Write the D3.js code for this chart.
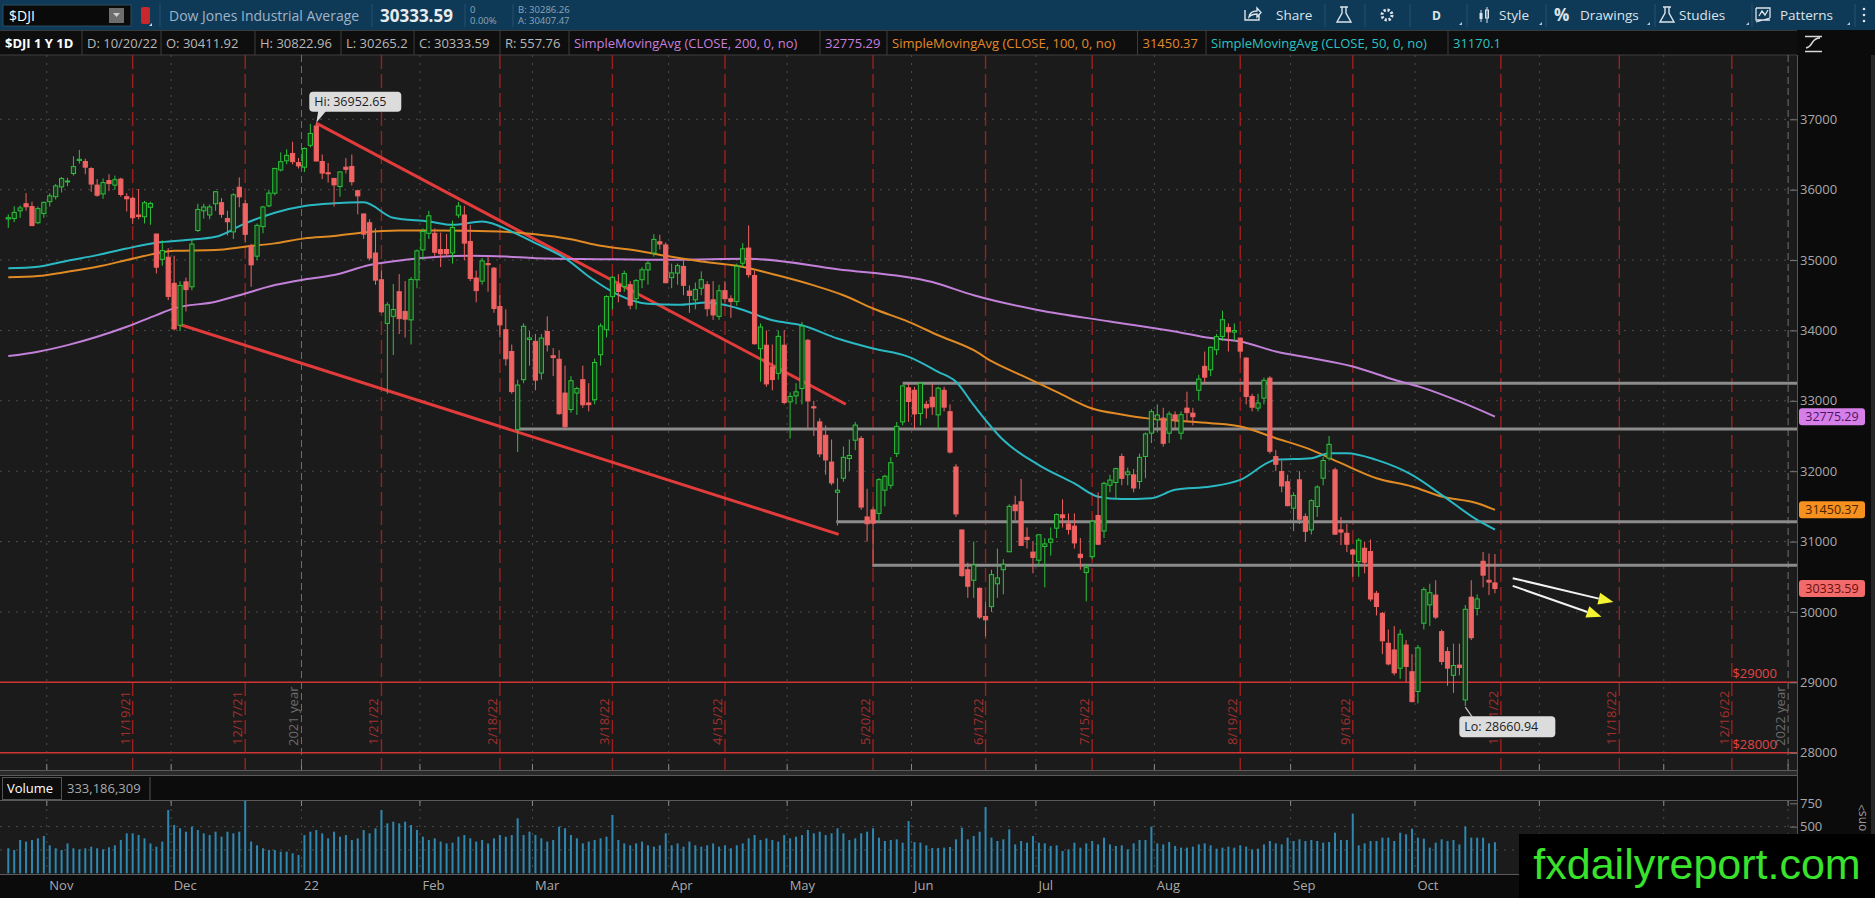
<!DOCTYPE html>
<html>
<head>
<meta charset="utf-8">
<title>$DJI 1 Y 1D</title>
<script src="https://cdnjs.cloudflare.com/ajax/libs/d3/7.8.5/d3.min.js"></script>
<style>
  html, body { margin: 0; padding: 0; background: #0b0b0b; overflow: hidden; }
  svg { display: block; font-family: "Open Sans", "Noto Sans", sans-serif; }
</style>
</head>
<body>
<svg id="chart" width="1875" height="898"></svg>
<script>
// trading calendar: first bar and market holidays
const firstDay = "2021-10-21";
const holidays = ["2021-11-25", "2021-12-24", "2022-01-17", "2022-02-21", "2022-04-15", "2022-05-30",
    "2022-06-20", "2022-07-04", "2022-09-05", "2022-11-24", "2022-12-26"];

// daily bars
const opens = [
    35584,35590,35700,35800,35760,35530,35660,35830,35900,36040,
    36115,36230,36415,36400,36300,36065,35940,36130,36065,36150,
    35900,35877,35640,35615,35750,35370,35010,35040,34670,34075,
    34690,34620,35420,35700,35640,35800,35815,35590,35400,36035,
    35800,35200,35055,35475,35770,35950,36280,36410,36515,36385,
    36320,36630,36905,36400,36240,36160,36045,36320,36330,35985,
    35655,35530,35100,34720,34100,34200,34550,34270,34150,34720,
    35145,35380,35380,35150,35150,35100,35640,35640,35265,34745,
    34700,34950,34885,34340,34010,33700,32590,33300,33870,33845,
    33395,33985,33640,33590,33110,32875,33110,33300,32970,33015,
    33655,34010,34480,34650,34625,34650,34450,34720,34860,35100,
    35260,35215,34750,34815,34910,34560,34435,34600,34650,34435,
    34200,34565,34450,34410,34955,35170,34780,33740,33790,33480,
    33390,33790,32985,33070,33175,33860,32915,32700,32510,32130,
    31700,31900,32180,32440,32465,31350,31450,31400,31730,31800,
    32250,32700,33185,33150,32820,32950,33050,32800,33150,32845,
    32060,31165,30600,30450,30335,29935,30075,30400,30600,30855,
    31520,31565,31060,30850,30735,30930,30990,31190,31380,31250,
    31220,30820,30560,30785,31370,31150,31800,31840,32209,31950,
    31948,31853,32209,32540,32730,32754,32540,32800,32540,32896,
    32825,33150,33490,33440,33725,33915,34040,33975,33891,33607,
    33062,32896,33038,33322,32208,31995,31850,31474,31877,31355,
    31166,31498,31900,32185,32019,31166,31118,30880,30716,30905,
    30858,30265,29980,29555,29460,29200,29530,29150,28870,29840,
    30100,30240,29720,29436,29100,29245,28750,30210,30050,30720,
    30450,30411.92];
const highs = [
    35650,35765,35775,35950,35830,35760,35830,35950,36080,36180,
    36170,36475,36565,36440,36320,36150,36160,36220,36200,36170,
    35950,35900,36010,35840,35830,35370,35280,35170,35060,34700,
    34750,35300,35800,35800,35790,35980,35880,35700,35950,36175,
    35850,35230,35520,35770,36000,36310,36530,36575,36680,36450,
    36600,36935,36952.65,36500,36380,36160,36260,36450,36500,36000,
    35660,35580,35450,34850,34400,34660,34800,34700,34760,35150,
    35450,35700,35450,35390,35370,35560,35825,35770,35500,34850,
    35030,35050,34900,34500,34300,33800,33300,34100,33990,33950,
    33950,34200,33750,33720,33500,33350,33200,33500,33250,33600,
    34100,34500,34770,34800,34850,34700,34730,34900,34985,35370,
    35360,35250,34950,34950,35000,34640,34680,34840,34700,34700,
    34650,34700,34500,34950,35240,35492,34850,34100,34000,33800,
    34000,34000,33120,33250,34120,33880,33000,32750,32650,32450,
    31900,32350,32450,32700,32500,31750,31500,31900,31950,32200,
    32700,33220,33250,33200,33250,33000,33250,33200,33200,32950,
    32100,31170,30700,31000,30350,30150,30600,30900,30750,31530,
    31650,31890,31200,31000,31100,31050,31200,31400,31600,31400,
    31400,31050,30680,31300,31700,31850,31950,32050,32250,32050,
    32030,32250,32550,32880,32950,32900,32850,32850,32850,33130,
    32900,33370,33700,33770,33950,34281,34100,34100,33900,33620,
    33100,33100,33330,33350,32300,32150,31950,31700,32000,31400,
    31600,31800,32200,32500,32050,31350,31250,30900,31050,31000,
    31030,30300,30000,29750,29800,29750,29600,29400,29530,30350,
    30400,30450,29750,29500,29550,29550,30100,30450,30250,30850,
    30830,30822.96];
const lows = [
    35458,35540,35600,35700,35480,35510,35600,35760,35860,35960,
    36050,36200,36370,36220,35970,35900,35870,35980,36000,35900,
    35690,35510,35580,35520,35500,34810,34920,34430,34000,33990,
    34270,34570,35400,35590,35580,35700,35600,35350,35300,35750,
    35250,34620,35000,35380,35750,35920,36260,36360,36360,36300,
    36250,36600,36400,36150,36100,35760,35900,36230,36060,35650,
    35300,35000,34650,34250,33099,33650,33950,33900,33800,34600,
    35000,35300,35050,34900,35050,34950,35600,35000,34700,34400,
    34650,34550,34250,33900,33500,33100,32272,33250,33500,33150,
    33300,33700,33350,32800,32600,32830,32800,32900,32850,32950,
    33500,33900,34300,34400,34550,34300,34300,34600,34650,35050,
    35150,34670,34600,34650,34500,34250,34300,34500,34200,34150,
    34150,34400,34180,34350,34900,34750,33800,33270,33200,33150,
    33300,32950,32465,32950,32950,32600,32500,32200,31950,31800,
    31228,31850,32000,32300,31450,31000,30636,31300,31500,31750,
    32200,32650,32700,32600,32650,32750,32800,32600,32850,32250,
    31350,30500,30200,30200,29900,29653,30000,30200,30250,30850,
    31300,30940,30900,30550,30650,30350,30800,31050,31200,31100,
    30900,30600,30150,30750,30950,31050,31700,31600,31800,31800,
    31700,31750,31900,32400,32550,32350,32400,32600,32450,32700,
    32650,33000,33250,33350,33650,33850,33700,33850,33600,32950,
    32850,32850,32950,32250,32000,31700,31500,31150,31250,31000,
    31100,31350,31800,32150,31100,30950,30850,30500,30500,30550,
    30150,29950,29400,29240,29100,29050,29000,28715,28700,29750,
    29800,29900,29250,28950,28850,29100,28660.94,29600,29950,30350,
    30240,30265.2];
const closes = [
    35603,35677,35741,35757,35490,35731,35820,35913,36053,36158,
    36124,36328,36432,36320,36080,35921,36100,36087,36142,35931,
    35870,35602,35619,35814,35804,34899,35136,34484,34022,34640,
    34580,35227,35719,35754,35755,35971,35651,35544,35927,35898,
    35365,34932,35493,35754,35951,36302,36398,36488,36398,36338,
    36585,36799,36408,36236,36231,36068,36252,36290,36113,35912,
    35368,35029,34715,34265,34364,34297,34168,34160,34725,35131,
    35405,35629,35111,35089,35091,35463,35768,35241,34738,34566,
    34988,34934,34312,34079,33597,33131,33224,34059,33893,33294,
    33891,33795,33614,32817,32632,33286,33174,32944,32945,33545,
    34063,34481,34755,34553,34808,34359,34708,34862,34955,35294,
    35228,34678,34818,34921,34641,34497,34583,34721,34308,34220,
    34564,34451,34411,34911,35160,34793,33811,34049,33240,33302,
    33916,32977,33061,33128,34061,32998,32899,32246,32160,31834,
    31730,32197,32223,32655,31490,31253,31262,31880,31928,32120,
    32637,33212,32990,32813,33248,32900,32915,33180,32910,32272,
    31393,30516,30365,30668,29927,29888,30530,30483,30677,31500,
    31438,30946,31029,30775,31097,30967,31037,31384,31338,31173,
    30981,30772,30630,31288,30962,31827,31874,32036,31899,31990,
    31761,32197,32529,32845,32798,32396,32812,32726,32803,32832,
    32774,33309,33336,33761,33912,34152,33980,33999,33706,33063,
    32909,32969,33291,32283,32098,31790,31510,31656,31318,31146,
    31581,31775,32152,32381,31105,31135,30962,30822,31020,30706,
    30184,30077,29590,29261,29135,29684,29226,28726,29490,30317,
    30273,29927,29297,29202,29239,29210,30038,29634,30185,30523,
    30424,30333.59];
// volume, millions of shares
const volumes = [
    268,250,357,340,357,375,400,300,268,250,
    320,268,257,268,285,268,257,278,300,357,
    428,428,410,375,320,285,340,678,517,482,
    446,500,464,428,410,446,392,446,428,446,
    778,340,300,268,250,250,232,232,214,196,
    410,446,464,428,375,446,392,410,357,375,
    464,428,482,678,535,553,535,553,517,464,
    392,357,375,340,320,328,392,410,375,340,
    357,320,375,410,392,410,590,410,446,410,
    375,340,357,500,482,410,375,320,340,357,
    375,392,625,357,320,300,320,340,300,285,
    300,428,300,320,285,340,300,285,300,320,
    285,300,268,300,320,375,410,357,375,357,
    340,410,375,392,410,464,428,446,410,428,
    482,428,357,375,428,446,482,382,346,357,
    364,328,560,335,328,300,271,271,275,282,
    364,489,364,400,446,710,382,346,364,471,
    310,346,328,400,328,321,293,300,239,257,
    328,275,321,346,310,382,310,293,300,257,
    321,357,357,500,321,310,335,293,275,275,
    286,310,321,300,264,275,286,275,300,286,
    257,264,310,346,321,310,382,346,364,346,
    357,346,328,335,435,357,357,640,300,321,
    346,346,382,382,346,435,418,478,382,371,
    275,328,364,346,357,310,500,382,382,382,
    321,333.186309];

// moving averages: [bar index, value]
const sma200 = [[0,33635],[5,33697],[10,33791],[15,33910],[20,34052],[25,34218],[28,34313],[35,34408],
    [40,34526],[45,34645],[50,34725],[55,34787],[61,34930],[67,35003],[78,35060],[84,35050],[89,35027],
    [100,35013],[112,35003],[125,35017],[140,34870],[156,34687],[163,34500],[174,34287],[186,34128],
    [197,33986],[203,33891],[208,33844],[214,33701],[220,33607],[227,33488],[234,33299],[239,33180],
    [245,32991],[251,32775.29]];
const sma100 = [[0,34754],[5,34773],[10,34834],[15,34905],[20,35000],[25,35095],[28,35133],[35,35142],
    [40,35190],[45,35237],[50,35308],[55,35341],[60,35393],[66,35420],[72,35420],[83,35405],[89,35368],
    [95,35297],[100,35202],[106,35136],[111,35060],[117,34980],[123,34918],[130,34780],[136,34640],
    [141,34500],[146,34311],[152,34122],[157,33932],[163,33719],[166,33563],[171,33364],[177,33128],
    [183,32891],[188,32806],[192,32754],[197,32720],[203,32682],[208,32635],[214,32469],[220,32303],
    [225,32114],[231,31900],[237,31782],[242,31640],[248,31545],[251,31450.37]];
const sma50 = [[0,34882],[5,34905],[10,34990],[15,35070],[20,35165],[25,35246],[30,35284],[35,35330],
    [40,35521],[45,35673],[50,35768],[55,35806],[60,35820],[65,35600],[71,35547],[75,35500],[80,35547],
    [85,35405],[89,35240],[94,35027],[98,34767],[103,34506],[108,34378],[113,34364],[118,34397],
    [123,34320],[129,34145],[134,34074],[140,33885],[146,33743],[152,33625],[157,33412],[160,33270],
    [163,32938],[168,32442],[174,32087],[180,31826],[184,31637],[188,31604],[193,31616],[197,31735],
    [203,31782],[208,31877],[214,32161],[220,32185],[223,32256],[226,32256],[231,32161],[237,31948],
    [242,31664],[248,31308],[251,31170.1]];

// axis and annotation labels
const priceTicks = [28000, 29000, 30000, 31000, 32000, 33000, 34000, 35000, 36000, 37000];
const volumeTicks = [500, 750];
// month names shown under the bars (later months sit under the watermark)
const monthLabels = ["Nov", "Dec", "22", "Feb", "Mar", "Apr", "May", "Jun", "Jul", "Aug", "Sep", "Oct"];
const expiryLabels = ["11/19/21", "12/17/21", "1/21/22", "2/18/22", "3/18/22", "4/15/22", "5/20/22",
    "6/17/22", "7/15/22", "8/19/22", "9/16/22", "10/21/22", "11/18/22", "12/16/22"];
const yearLabels = ["2021 year", "2022 year"];
const priceLevels = [29000, 28000];
const levelLabels = ["$29000", "$28000"];

// drawings on the chart: [bar index, price]
const greyLevels = [[151, 33250], [85.6, 32600], [139.8, 31282], [145.9, 30665]];
const trendLines = [[[52, 36945], [141.4, 32951]], [[28.7, 34091], [140.2, 31103]]];
const arrows = [[[254, 30480], [271, 30140]], [[254, 30370], [269, 29930]]];

const headerCells = [
    ["$DJI 1 Y 1D", "#ffffff"], ["D: 10/20/22", "#b8b8b8"], ["O: 30411.92", "#b8b8b8"], ["H: 30822.96", "#b8b8b8"],
    ["L: 30265.2", "#b8b8b8"], ["C: 30333.59", "#b8b8b8"], ["R: 557.76", "#b8b8b8"],
    ["SimpleMovingAvg (CLOSE, 200, 0, no)", "#c77fdc"], ["32775.29", "#c77fdc"],
    ["SimpleMovingAvg (CLOSE, 100, 0, no)", "#e2892a"], ["31450.37", "#e2892a"],
    ["SimpleMovingAvg (CLOSE, 50, 0, no)", "#2cc3c3"], ["31170.1", "#2cc3c3"]];
const headerEdges = [0, 82, 161, 255, 341, 414, 500, 569, 820, 887, 1137.5, 1206, 1448];

// ---------------------------------------------------------------
const svg = d3.select("#chart");
const plotRight = 1797, plotTop = 55, plotBottom = 770;
const upColor = "#2cc23b", downColor = "#f06363";

function tradingDays(start, count) {
    const out = [];
    const d = new Date(start + "T12:00:00Z");
    while (out.length < count) {
        const dow = d.getUTCDay();
        const iso = d.toISOString().slice(0, 10);
        if (dow !== 0 && dow !== 6 && !holidays.includes(iso)) out.push(new Date(d));
        d.setUTCDate(d.getUTCDate() + 1);
    }
    return out;
}
const days = tradingDays(firstDay, 303);

// scales
const x = d3.scaleLinear().domain([-1.4, 302]).range([0, plotRight]);
const y = d3.scaleLinear().domain([28000, 37000]).range([752.7, 119.3]);
const yVol = d3.scaleLinear().domain([0, 750]).range([873.3, 803.3]);

// month starts and year ends, placed between bars
const monthStarts = [], yearEnds = [];
for (let i = 1; i < days.length; i++) {
    if (days[i].getUTCMonth() !== days[i - 1].getUTCMonth()) monthStarts.push(i - 0.5);
    if (days[i].getUTCFullYear() !== days[i - 1].getUTCFullYear()) yearEnds.push(i - 0.5);
}
function barOnOrBefore(label) {
    const [m, d, yy] = label.split("/").map(Number);
    const t = Date.UTC(2000 + yy, m - 1, d, 12);
    let idx = 0;
    days.forEach((day, i) => { if (day.getTime() <= t) idx = i; });
    return idx;
}

// backgrounds
svg.append("rect").attr("width", 1875).attr("height", 898).attr("fill", "#0b0b0b");
svg.append("rect").attr("width", 1875).attr("height", 30).attr("fill", "#0f3a57");
svg.append("rect").attr("y", 30).attr("width", plotRight).attr("height", 25).attr("fill", "#0e0e0e");
svg.append("rect").attr("y", plotTop).attr("width", plotRight).attr("height", plotBottom - plotTop).attr("fill", "#1b1b1b");
svg.append("rect").attr("y", 800).attr("width", plotRight).attr("height", 74).attr("fill", "#1b1b1b");

// ---- toolbar ----
const tb = svg.append("g");
tb.append("rect").attr("x", 3).attr("y", 5).attr("width", 128).attr("height", 21).attr("fill", "#0a0a0a").attr("stroke", "#2b4c63");
tb.append("text").attr("x", 9).attr("y", 20.5).attr("fill", "#ffffff").style("font-size", "14px").text("$DJI");
tb.append("rect").attr("x", 109).attr("y", 8).attr("width", 15).attr("height", 15).attr("fill", "#6d6d6d");
tb.append("path").attr("d", "M113,13 h7 l-3.5,4 z").attr("fill", "#cfcfcf");
tb.append("rect").attr("x", 141).attr("y", 7).attr("width", 9).attr("height", 17).attr("rx", 2).attr("fill", "#c8282a");
tb.append("path").attr("d", "M149,26 l3,0 l0,-3 z").attr("fill", "#d0d8e0");
tb.append("text").attr("x", 169).attr("y", 20.5).attr("fill", "#9fb4c7").style("font-size", "14px").text("Dow Jones Industrial Average");
tb.append("text").attr("x", 380).attr("y", 21.5).attr("fill", "#e8ecef").style("font-size", "17px").style("font-weight", "bold").text("30333.59");
tb.append("text").attr("x", 470).attr("y", 13).attr("fill", "#8ea4b8").style("font-size", "9.5px").text("0");
tb.append("text").attr("x", 470).attr("y", 24).attr("fill", "#8ea4b8").style("font-size", "9.5px").text("0.00%");
tb.append("text").attr("x", 518).attr("y", 13).attr("fill", "#8ea4b8").style("font-size", "9.5px").text("B: 30286.26");
tb.append("text").attr("x", 518).attr("y", 24).attr("fill", "#8ea4b8").style("font-size", "9.5px").text("A: 30407.47");
[160, 372, 465, 513, 1325, 1365, 1410, 1467, 1546, 1655, 1752, 1855].forEach(sx => {
    tb.append("line").attr("x1", sx).attr("x2", sx).attr("y1", 4).attr("y2", 27).attr("stroke", "#24506e");
});
const tbText = "#dce4ea";
tb.append("path").attr("d", "M1245,10 v10 h14 v-5 M1249,17 q1,-6 8,-6 v-3 l4,4.5 l-4,4.5 v-3 q-5,0 -8,3 z")
    .attr("fill", "none").attr("stroke", tbText).attr("stroke-width", 1.4);
tb.append("text").attr("x", 1276).attr("y", 20).attr("fill", tbText).style("font-size", "13.5px").text("Share");
const flask = (fx) => `M${fx - 4},7 h8 M${fx - 2},7 v6 l-5,9 h14 l-5,-9 v-6`;
tb.append("path").attr("d", flask(1344)).attr("fill", "none").attr("stroke", tbText).attr("stroke-width", 1.4);
tb.append("circle").attr("cx", 1387).attr("cy", 15).attr("r", 5).attr("fill", "none").attr("stroke", tbText)
    .attr("stroke-width", 3).attr("stroke-dasharray", "2.2,1.7");
tb.append("circle").attr("cx", 1387).attr("cy", 15).attr("r", 1.6).attr("fill", "#0f3a57");
tb.append("text").attr("x", 1432).attr("y", 20).attr("fill", tbText).style("font-size", "12px").style("font-weight", "bold").text("D");
tb.append("path").attr("d", "M1481,10 v12 M1487,7 v16").attr("stroke", tbText).attr("stroke-width", 1);
tb.append("rect").attr("x", 1479.5).attr("y", 13).attr("width", 3).attr("height", 6).attr("fill", tbText);
tb.append("rect").attr("x", 1485.5).attr("y", 10).attr("width", 3).attr("height", 8).attr("fill", "none").attr("stroke", tbText);
tb.append("text").attr("x", 1499).attr("y", 20).attr("fill", tbText).style("font-size", "13.5px").text("Style");
tb.append("text").attr("x", 1554).attr("y", 21).attr("fill", tbText).style("font-size", "17px").style("font-weight", "bold").text("%");
tb.append("text").attr("x", 1580).attr("y", 20).attr("fill", tbText).style("font-size", "13.5px").text("Drawings");
tb.append("path").attr("d", flask(1667)).attr("fill", "none").attr("stroke", tbText).attr("stroke-width", 1.4);
tb.append("text").attr("x", 1679).attr("y", 20).attr("fill", tbText).style("font-size", "13.5px").text("Studies");
tb.append("path").attr("d", "M1756,8 h14 v10 M1756,8 v12 h14 M1759,16 l3,-5 l3,4 l3,-5 M1756,22 l14,-4")
    .attr("fill", "none").attr("stroke", tbText).attr("stroke-width", 1.3);
tb.append("text").attr("x", 1780).attr("y", 20).attr("fill", tbText).style("font-size", "13.5px").text("Patterns");
[1459, 1539, 1647, 1746, 1847].forEach(cx => {
    tb.append("path").attr("d", `M${cx},25 h3 v-3 z`).attr("fill", "#b8c6d2");
});
[9, 15, 21].forEach(cy => tb.append("circle").attr("cx", 1864).attr("cy", cy).attr("r", 1.3).attr("fill", tbText));

// ---- study header row ----
const hdr = svg.append("g");
hdr.append("line").attr("x1", 0).attr("x2", plotRight).attr("y1", 30.5).attr("y2", 30.5).attr("stroke", "#3a3a3a");
headerCells.forEach((c, i) => {
    hdr.append("text").attr("x", headerEdges[i] + 5).attr("y", 47.5).attr("fill", c[1])
        .style("font-size", "13px").style("font-weight", i === 0 ? "bold" : "normal").text(c[0]);
});
headerEdges.slice(1).forEach(ex => {
    hdr.append("line").attr("x1", ex).attr("x2", ex).attr("y1", 31).attr("y2", 55).attr("stroke", "#3c3c3c");
});
hdr.append("line").attr("x1", 0).attr("x2", plotRight).attr("y1", 55).attr("y2", 55).attr("stroke", "#3f3f3f");

// ---- main price pane ----
svg.append("clipPath").attr("id", "clipMain").append("rect")
    .attr("x", 0).attr("y", plotTop).attr("width", plotRight).attr("height", plotBottom - plotTop);
const main = svg.append("g").attr("clip-path", "url(#clipMain)");

// dotted grid
main.selectAll(".hgrid").data(priceTicks).join("line")
    .attr("x1", 0).attr("x2", plotRight).attr("y1", d => y(d)).attr("y2", d => y(d))
    .attr("stroke", "#4c4c4c").attr("stroke-dasharray", "2,6");
main.selectAll(".vgrid").data(monthStarts.filter(m => !yearEnds.includes(m))).join("line")
    .attr("x1", d => x(d)).attr("x2", d => x(d)).attr("y1", plotTop).attr("y2", plotBottom)
    .attr("stroke", "#4c4c4c").attr("stroke-dasharray", "2,6");
main.selectAll(".mtick").data(monthStarts).join("line")
    .attr("x1", d => x(d)).attr("x2", d => x(d)).attr("y1", plotBottom - 6).attr("y2", plotBottom)
    .attr("stroke", "#8a8a8a");

// year separators
yearEnds.forEach((b, i) => {
    main.append("line").attr("x1", x(b)).attr("x2", x(b)).attr("y1", plotTop).attr("y2", plotBottom)
        .attr("stroke", "#707070").attr("stroke-dasharray", "7,4");
    main.append("text").attr("transform", `translate(${x(b) - 3},746) rotate(-90)`)
        .attr("fill", "#6c6c6c").style("font-size", "13px").text(yearLabels[i]);
});

// option expiration lines
expiryLabels.forEach(lbl => {
    const bx = x(barOnOrBefore(lbl));
    main.append("line").attr("x1", bx).attr("x2", bx).attr("y1", plotTop).attr("y2", plotBottom)
        .attr("stroke", "#9c1f1f").attr("stroke-width", 1.4).attr("stroke-dasharray", "14,5");
    main.append("text").attr("transform", `translate(${bx - 3},745) rotate(-90)`)
        .attr("fill", "#a3302f").style("font-size", "13px").text(lbl);
});

// price levels
priceLevels.forEach((p, i) => {
    main.append("line").attr("x1", 0).attr("x2", plotRight).attr("y1", y(p)).attr("y2", y(p))
        .attr("stroke", "#d23434").attr("stroke-width", 1.4);
    main.append("text").attr("x", 1777).attr("y", y(p) - 4).attr("text-anchor", "end")
        .attr("fill", "#e04545").style("font-size", "13px").text(levelLabels[i]);
});

// support / resistance drawings
main.selectAll(".glevel").data(greyLevels).join("line")
    .attr("x1", d => x(d[0])).attr("x2", plotRight).attr("y1", d => y(d[1])).attr("y2", d => y(d[1]))
    .attr("stroke", "#8c8c8c").attr("stroke-width", 3);

// channel
main.selectAll(".trend").data(trendLines).join("line")
    .attr("x1", d => x(d[0][0])).attr("y1", d => y(d[0][1]))
    .attr("x2", d => x(d[1][0])).attr("y2", d => y(d[1][1]))
    .attr("stroke", "#e23b3b").attr("stroke-width", 3);

// moving averages
const maLine = d3.line().x(d => x(d[0])).y(d => y(d[1])).curve(d3.curveMonotoneX);
[[sma200, "#c280d8"], [sma100, "#df8a24"], [sma50, "#2ab9c2"]].forEach(([pts, col]) => {
    main.append("path").attr("d", maLine(pts)).attr("fill", "none").attr("stroke", col).attr("stroke-width", 2);
});

// candles
const bars = d3.range(closes.length).map(i => ({ i, o: opens[i], h: highs[i], l: lows[i], c: closes[i] }));
const bw = 4.2;
const candle = main.append("g").selectAll("g").data(bars).join("g");
candle.append("line")
    .attr("x1", d => x(d.i)).attr("x2", d => x(d.i))
    .attr("y1", d => y(d.h)).attr("y2", d => y(d.l))
    .attr("stroke", d => d.c >= d.o ? upColor : downColor);
candle.append("rect")
    .attr("x", d => x(d.i) - bw / 2).attr("width", bw)
    .attr("y", d => y(Math.max(d.o, d.c)))
    .attr("height", d => Math.max(1, Math.abs(y(d.o) - y(d.c))))
    .attr("fill", d => d.c >= d.o ? "#173d1b" : downColor)
    .attr("stroke", d => d.c >= d.o ? upColor : downColor)
    .attr("stroke-width", 1);

// direction arrows
arrows.forEach(a => {
    const x1 = x(a[0][0]), y1 = y(a[0][1]), x2 = x(a[1][0]), y2 = y(a[1][1]);
    const ang = Math.atan2(y2 - y1, x2 - x1);
    const len = 15, wid = 6;
    const bx = x2 - len * Math.cos(ang), by = y2 - len * Math.sin(ang);
    main.append("line").attr("x1", x1).attr("y1", y1).attr("x2", bx).attr("y2", by)
        .attr("stroke", "#f2f2f2").attr("stroke-width", 2);
    main.append("polygon").attr("points", [[x2, y2],
        [bx - wid * Math.sin(ang), by + wid * Math.cos(ang)],
        [bx + wid * Math.sin(ang), by - wid * Math.cos(ang)]].join(" "))
        .attr("fill", "#f3f233");
});

// high / low bubbles
const hiIdx = highs.indexOf(d3.max(highs)), loIdx = lows.indexOf(d3.min(lows));
const hx = x(hiIdx), hy = y(highs[hiIdx]);
main.append("path").attr("d", `M${hx},${hy} L${hx + 2},${hy - 12} L${hx + 10},${hy - 12} Z`).attr("fill", "#dcdcdc");
main.append("rect").attr("x", hx - 7).attr("y", hy - 31).attr("width", 92).attr("height", 20).attr("rx", 4).attr("fill", "#dcdcdc");
main.append("text").attr("x", hx - 2).attr("y", hy - 16.5).attr("fill", "#1c1c1c").style("font-size", "12.5px").text("Hi: " + highs[hiIdx]);
const lx = x(loIdx), ly = y(lows[loIdx]);
main.append("line").attr("x1", lx).attr("y1", ly + 1).attr("x2", lx + 7).attr("y2", ly + 11).attr("stroke", "#c8c8c8").attr("stroke-width", 1.2);
main.append("rect").attr("x", lx - 6).attr("y", ly + 10).attr("width", 96).attr("height", 21).attr("rx", 4).attr("fill", "#dcdcdc");
main.append("text").attr("x", lx - 1).attr("y", ly + 25).attr("fill", "#1c1c1c").style("font-size", "12.5px").text("Lo: " + lows[loIdx]);

// frame of the price pane
svg.append("line").attr("x1", plotRight + 0.5).attr("x2", plotRight + 0.5).attr("y1", plotTop).attr("y2", 874).attr("stroke", "#555");
svg.append("rect").attr("x", 0).attr("y", 770).attr("width", plotRight).attr("height", 6).attr("fill", "#2a2a2a");
svg.append("line").attr("x1", 0).attr("x2", plotRight).attr("y1", 770.5).attr("y2", 770.5).attr("stroke", "#5a5a5a");
svg.append("line").attr("x1", 0).attr("x2", plotRight).attr("y1", 775.5).attr("y2", 775.5).attr("stroke", "#5a5a5a");

// price axis
const yAxis = svg.append("g").attr("transform", "translate(1790,0)")
    .call(d3.axisRight(y).tickValues(priceTicks).tickSize(7).tickPadding(3).tickFormat(d3.format("d")));
yAxis.select(".domain").remove();
yAxis.selectAll("line").attr("stroke", "#7a7a7a");
yAxis.selectAll("text").attr("fill", "#a9a9a9").style("font-size", "13px").style("font-family", "Open Sans");

// last value badges
[[32775.29, "#d77fe9", "#4b1460"], [31450.37, "#f6901f", "#4d2400"], [30333.59, "#f26a6a", "#6b0d0d"]].forEach(([v, bg, fg]) => {
    svg.append("rect").attr("x", 1799).attr("y", y(v) - 8.5).attr("width", 66).attr("height", 17).attr("rx", 3).attr("fill", bg);
    svg.append("text").attr("x", 1832).attr("y", y(v) + 4.5).attr("text-anchor", "middle").attr("fill", fg)
        .style("font-size", "12.5px").text(d3.format(".2f")(v));
});

// small study icon above the axis
svg.append("path").attr("d", "M1805,36.5 h17 M1805,51.5 h17 M1806,48 q4,-1 6,-5 q3,-5 8,-5")
    .attr("fill", "none").attr("stroke", "#d8d8d8").attr("stroke-width", 1.6);

// ---- volume pane ----
const vhdr = svg.append("g");
vhdr.append("rect").attr("x", 0).attr("y", 776).attr("width", plotRight).attr("height", 24).attr("fill", "#0c0c0c");
vhdr.append("line").attr("x1", 0).attr("x2", plotRight).attr("y1", 800.5).attr("y2", 800.5).attr("stroke", "#5a5a5a");
vhdr.append("rect").attr("x", 2.5).attr("y", 777.5).attr("width", 59).attr("height", 22).attr("fill", "none").attr("stroke", "#555");
vhdr.append("line").attr("x1", 150).attr("x2", 150).attr("y1", 777).attr("y2", 800).attr("stroke", "#555");
vhdr.append("text").attr("x", 7).attr("y", 793).attr("fill", "#ffffff").style("font-size", "13px").text("Volume");
vhdr.append("text").attr("x", 67).attr("y", 793).attr("fill", "#a9a9a9").style("font-size", "13px").text("333,186,309");

const vol = svg.append("g");
vol.selectAll(".vgridh").data([250, 500]).join("line")
    .attr("x1", 0).attr("x2", plotRight).attr("y1", d => yVol(d)).attr("y2", d => yVol(d))
    .attr("stroke", "#4c4c4c").attr("stroke-dasharray", "2,6");
vol.selectAll(".vgridv").data(monthStarts).join("line")
    .attr("x1", d => x(d)).attr("x2", d => x(d)).attr("y1", 801).attr("y2", 874)
    .attr("stroke", "#4c4c4c").attr("stroke-dasharray", "2,6");
vol.selectAll(".vtick").data(monthStarts).join("line")
    .attr("x1", d => x(d)).attr("x2", d => x(d)).attr("y1", 801).attr("y2", 806).attr("stroke", "#8a8a8a");
vol.selectAll(".vbar").data(volumes).join("rect")
    .attr("x", (d, i) => x(i) - 1).attr("width", 2)
    .attr("y", d => yVol(d)).attr("height", d => yVol(0) - yVol(d))
    .attr("fill", "#2e87b0");

const vAxis = svg.append("g").attr("transform", "translate(1790,0)")
    .call(d3.axisRight(yVol).tickValues(volumeTicks).tickSize(7).tickPadding(3).tickFormat(d3.format("d")));
vAxis.select(".domain").remove();
vAxis.selectAll("line").attr("stroke", "#7a7a7a");
vAxis.selectAll("text").attr("fill", "#a9a9a9").style("font-size", "13px").style("font-family", "Open Sans");

// the visible tail of the "expansion" tab
svg.append("text").attr("transform", "translate(1866,804) rotate(-90)").attr("text-anchor", "end")
    .attr("fill", "#9a9a9a").style("font-size", "12px").text("ons>");
svg.append("rect").attr("x", 1871).attr("y", plotTop).attr("width", 4).attr("height", 779).attr("fill", "#262626");

// ---- time axis ----
svg.append("line").attr("x1", 0).attr("x2", plotRight).attr("y1", 874.5).attr("y2", 874.5).attr("stroke", "#5a5a5a");
const xAxis = svg.append("g").attr("transform", "translate(0,874)")
    .call(d3.axisBottom(x).tickValues(monthStarts.slice(0, monthLabels.length)).tickSize(0).tickPadding(7)
        .tickFormat((d, i) => monthLabels[i]));
xAxis.select(".domain").remove();
xAxis.selectAll("text").attr("text-anchor", "start").attr("dx", 2)
    .attr("fill", "#a9a9a9").style("font-size", "13px").style("font-family", "Open Sans");

// ---- watermark ----
svg.append("rect").attr("x", 1519).attr("y", 834).attr("width", 356).attr("height", 64).attr("fill", "#000000");
svg.append("text").attr("x", 1697).attr("y", 879).attr("text-anchor", "middle")
    .attr("fill", "#39e22c").style("font-family", "Liberation Sans, Arial, sans-serif").style("font-size", "43px")
    .text("fxdailyreport.com");
</script>
</body>
</html>
